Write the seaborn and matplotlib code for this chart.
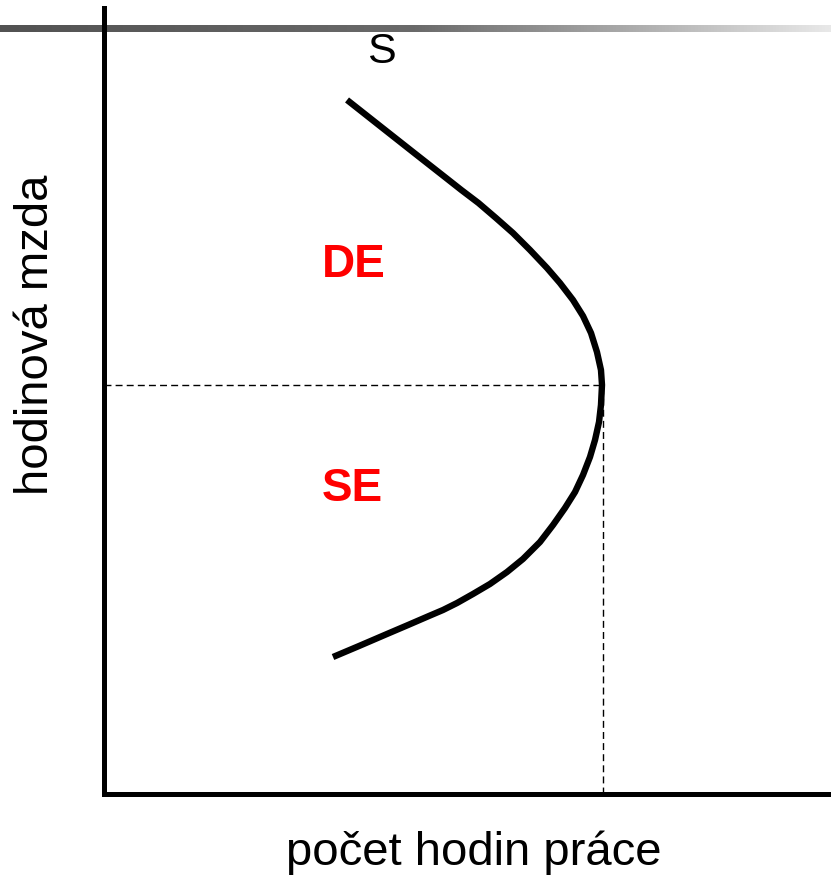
import numpy as np
import pandas as pd
import matplotlib
matplotlib.use("Agg")
import matplotlib.pyplot as plt
from matplotlib.colors import LinearSegmentedColormap
import seaborn as sns

# backward-bending labour supply curve (hours vs. hourly wage, 0-100 units)
hours = [33.43, 38.14, 42.68, 47.06, 49.16, 51.51, 53.92, 56.26, 58.60, 60.94,
         62.72, 64.51, 65.89, 66.99, 67.81, 68.36, 68.50, 68.36, 68.09, 67.54,
         66.85, 65.89, 64.79, 63.41, 61.76, 59.97, 57.63, 55.43, 53.09, 50.76,
         48.56, 46.63, 44.70, 41.82, 38.93, 35.08, 31.50]
wage = [88.30, 84.86, 81.55, 78.37, 76.84, 75.19, 73.28, 71.37, 69.21, 66.92,
        65.01, 62.85, 60.81, 58.65, 56.23, 53.94, 52.04, 49.49, 47.33, 45.04,
        42.88, 40.59, 38.42, 36.39, 34.22, 32.06, 29.90, 28.24, 26.72, 25.45,
        24.30, 23.41, 22.65, 21.50, 20.36, 18.83, 17.43]

# turning point of the curve
peak_hours = 68.6
peak_wage = 52.0

curve_label = "S"
effect_labels = ["DE", "SE"]
x_title = "počet hodin práce"
y_title = "hodinová mzda"

sns.set_theme(style="white")
plt.rcParams["font.family"] = ["Liberation Sans", "DejaVu Sans"]

W, H = 831, 877
fig = plt.figure(figsize=(W / 100, H / 100), dpi=100)

# grey gradient bar across the top
bar_ax = fig.add_axes([0, (H - 32) / H, 1, 7 / H], zorder=0)
grad_cmap = LinearSegmentedColormap.from_list("bar", ["#525252", "#6a6a6a", "#e8e8e8"])
bar_ax.imshow(np.linspace(0, 1, 512).reshape(1, -1), aspect="auto", cmap=grad_cmap)
bar_ax.axis("off")

ax = fig.add_axes([104 / W, (H - 794) / H, (W - 104) / W, (794 - 8) / H], zorder=1)
ax.patch.set_visible(False)

df = pd.DataFrame({"hours": hours, "wage": wage})
sns.lineplot(data=df, x="hours", y="wage", sort=False, estimator=None,
             color="black", linewidth=4.6, ax=ax, zorder=3,
             solid_joinstyle="round", solid_capstyle="butt")

# dashed guides to the turning point
guides = pd.DataFrame({"hours": [0, peak_hours], "wage": [peak_wage, peak_wage]})
sns.lineplot(data=guides, x="hours", y="wage", sort=False, estimator=None,
             color="black", linewidth=1.0, ax=ax, zorder=2,
             linestyle=(0, (5, 3)))
vguide = pd.DataFrame({"hours": [peak_hours, peak_hours], "wage": [0, peak_wage]})
sns.lineplot(data=vguide, x="hours", y="wage", sort=False, estimator=None,
             color="black", linewidth=1.0, ax=ax, zorder=2,
             linestyle=(0, (5, 3)))

ax.text(38.1, 93.0, curve_label, fontsize=31, ha="center", va="baseline", color="black")
ax.text(34.3, 65.8, effect_labels[0], fontsize=33, fontweight="bold",
        ha="center", va="baseline", color="#ff0000")
ax.text(34.1, 37.3, effect_labels[1], fontsize=33, fontweight="bold",
        ha="center", va="baseline", color="#ff0000")

ax.set_xlim(0, 100)
ax.set_ylim(0, 100)
ax.set_xticks([])
ax.set_yticks([])
ax.set_xlabel("")
ax.set_ylabel("")
for side in ["top", "right"]:
    ax.spines[side].set_visible(False)
for side in ["left", "bottom"]:
    ax.spines[side].set_color("black")
    ax.spines[side].set_linewidth(3.6)

fig.text(474 / W, (H - 865) / H, x_title, fontsize=34, ha="center",
         va="baseline", color="black")
fig.text(36 / W, (H - 335) / H, y_title, fontsize=34, rotation=90,
         ha="center", va="center", color="black")

fig.savefig("out.png", dpi=100, facecolor="white")
